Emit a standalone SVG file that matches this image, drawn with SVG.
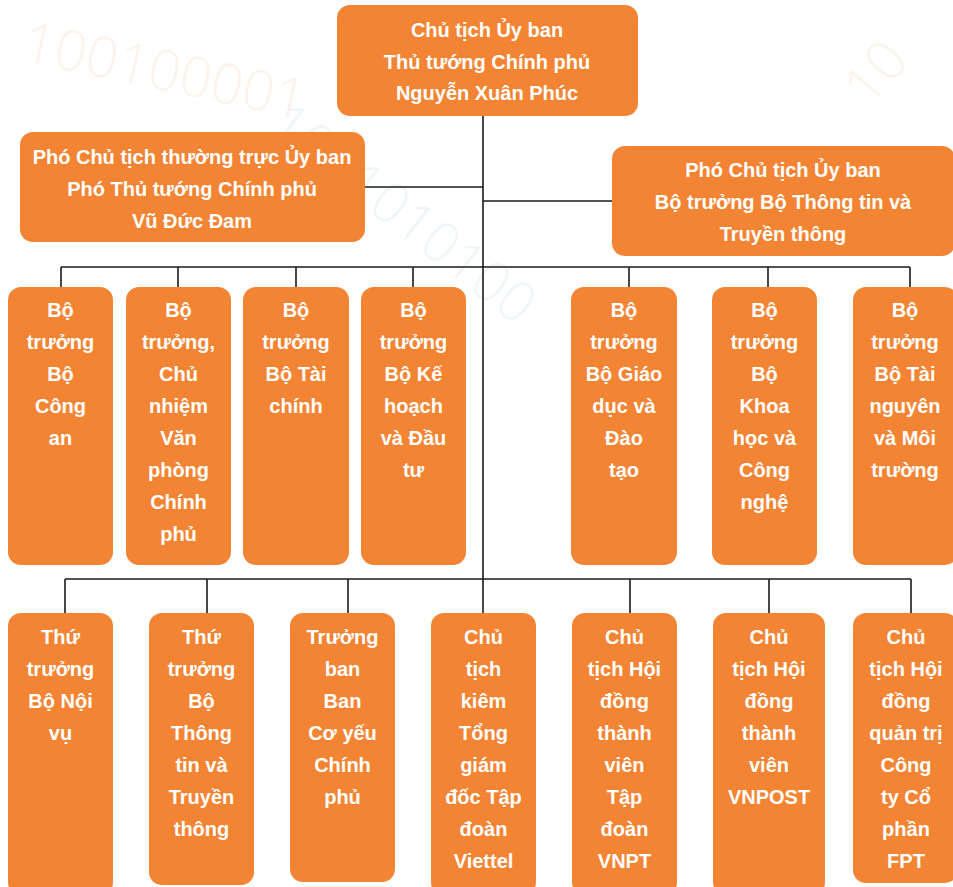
<svg xmlns="http://www.w3.org/2000/svg" width="953" height="887" viewBox="0 0 953 887">
<style>
.bg{fill:#ffffff}
.dig{font-family:"Open Sans","Liberation Sans",Arial,sans-serif;font-size:56px;font-weight:300}
.do{fill:#f6a56c;opacity:0.13}
.db{fill:#8fb4dc;opacity:0.13}
.box{fill:#f38433}
.t{font-family:"Liberation Sans",Arial,sans-serif;font-size:20px;font-weight:bold;fill:#ffffff;text-anchor:middle}
.ln{stroke:#1a1a1a;stroke-width:1.6;fill:none}
</style>
<rect class="bg" x="0" y="0" width="953" height="887"/>
<g id="background">
<text class="dig do" transform="translate(20,60) rotate(12)">100100001</text>
<text class="dig db" transform="translate(265,130) rotate(38)">1001010100</text>
<text class="dig do" transform="translate(870,110) rotate(-50)">10</text>
</g>
<g id="connectors">
<line class="ln" x1="483" y1="116" x2="483" y2="613"/>
<line class="ln" x1="365" y1="187" x2="483" y2="187"/>
<line class="ln" x1="483" y1="201" x2="612" y2="201"/>
<line class="ln" x1="61" y1="267" x2="910" y2="267"/>
<line class="ln" x1="61" y1="267" x2="61" y2="287"/>
<line class="ln" x1="178" y1="267" x2="178" y2="287"/>
<line class="ln" x1="296" y1="267" x2="296" y2="287"/>
<line class="ln" x1="413" y1="267" x2="413" y2="287"/>
<line class="ln" x1="629" y1="267" x2="629" y2="287"/>
<line class="ln" x1="768" y1="267" x2="768" y2="287"/>
<line class="ln" x1="910" y1="267" x2="910" y2="287"/>
<line class="ln" x1="65" y1="579" x2="911" y2="579"/>
<line class="ln" x1="65" y1="579" x2="65" y2="613"/>
<line class="ln" x1="207" y1="579" x2="207" y2="613"/>
<line class="ln" x1="348" y1="579" x2="348" y2="613"/>
<line class="ln" x1="630" y1="579" x2="630" y2="613"/>
<line class="ln" x1="769" y1="579" x2="769" y2="613"/>
<line class="ln" x1="911" y1="579" x2="911" y2="613"/>
</g>
<g id="chu-tich">
<rect class="box" x="337" y="5" width="301" height="111" rx="13"/>
<text class="t" x="487" y="37">Chủ tịch Ủy ban</text>
<text class="t" x="487" y="69">Thủ tướng Chính phủ</text>
<text class="t" x="487" y="100">Nguyễn Xuân Phúc</text>
</g>
<g id="pho-chu-tich-thuong-truc">
<rect class="box" x="20" y="132" width="345" height="110" rx="13"/>
<text class="t" x="192" y="164">Phó Chủ tịch thường trực Ủy ban</text>
<text class="t" x="192" y="196">Phó Thủ tướng Chính phủ</text>
<text class="t" x="192" y="228">Vũ Đức Đam</text>
</g>
<g id="pho-chu-tich">
<rect class="box" x="612" y="146" width="343" height="110" rx="13"/>
<text class="t" x="783" y="177">Phó Chủ tịch Ủy ban</text>
<text class="t" x="783" y="209">Bộ trưởng Bộ Thông tin và</text>
<text class="t" x="783" y="241">Truyền thông</text>
</g>
<g id="bo-cong-an">
<rect class="box" x="8" y="287" width="105" height="278" rx="13"/>
<text class="t" x="60.5" y="317">Bộ</text>
<text class="t" x="60.5" y="349">trưởng</text>
<text class="t" x="60.5" y="381">Bộ</text>
<text class="t" x="60.5" y="413">Công</text>
<text class="t" x="60.5" y="445">an</text>
</g>
<g id="van-phong-chinh-phu">
<rect class="box" x="126" y="287" width="105" height="278" rx="13"/>
<text class="t" x="178.5" y="317">Bộ</text>
<text class="t" x="178.5" y="349">trưởng,</text>
<text class="t" x="178.5" y="381">Chủ</text>
<text class="t" x="178.5" y="413">nhiệm</text>
<text class="t" x="178.5" y="445">Văn</text>
<text class="t" x="178.5" y="477">phòng</text>
<text class="t" x="178.5" y="509">Chính</text>
<text class="t" x="178.5" y="541">phủ</text>
</g>
<g id="bo-tai-chinh">
<rect class="box" x="243" y="287" width="106" height="278" rx="13"/>
<text class="t" x="296" y="317">Bộ</text>
<text class="t" x="296" y="349">trưởng</text>
<text class="t" x="296" y="381">Bộ Tài</text>
<text class="t" x="296" y="413">chính</text>
</g>
<g id="bo-ke-hoach-dau-tu">
<rect class="box" x="361" y="287" width="105" height="278" rx="13"/>
<text class="t" x="413.5" y="317">Bộ</text>
<text class="t" x="413.5" y="349">trưởng</text>
<text class="t" x="413.5" y="381">Bộ Kế</text>
<text class="t" x="413.5" y="413">hoạch</text>
<text class="t" x="413.5" y="445">và Đầu</text>
<text class="t" x="413.5" y="477">tư</text>
</g>
<g id="bo-giao-duc">
<rect class="box" x="571" y="287" width="106" height="278" rx="13"/>
<text class="t" x="624" y="317">Bộ</text>
<text class="t" x="624" y="349">trưởng</text>
<text class="t" x="624" y="381">Bộ Giáo</text>
<text class="t" x="624" y="413">dục và</text>
<text class="t" x="624" y="445">Đào</text>
<text class="t" x="624" y="477">tạo</text>
</g>
<g id="bo-khoa-hoc">
<rect class="box" x="712" y="287" width="105" height="278" rx="13"/>
<text class="t" x="764.5" y="317">Bộ</text>
<text class="t" x="764.5" y="349">trưởng</text>
<text class="t" x="764.5" y="381">Bộ</text>
<text class="t" x="764.5" y="413">Khoa</text>
<text class="t" x="764.5" y="445">học và</text>
<text class="t" x="764.5" y="477">Công</text>
<text class="t" x="764.5" y="509">nghệ</text>
</g>
<g id="bo-tai-nguyen">
<rect class="box" x="853" y="287" width="105" height="278" rx="13"/>
<text class="t" x="905" y="317">Bộ</text>
<text class="t" x="905" y="349">trưởng</text>
<text class="t" x="905" y="381">Bộ Tài</text>
<text class="t" x="905" y="413">nguyên</text>
<text class="t" x="905" y="445">và Môi</text>
<text class="t" x="905" y="477">trường</text>
</g>
<g id="bo-noi-vu">
<rect class="box" x="8" y="613" width="105" height="282" rx="13"/>
<text class="t" x="60.5" y="644">Thứ</text>
<text class="t" x="60.5" y="676">trưởng</text>
<text class="t" x="60.5" y="708">Bộ Nội</text>
<text class="t" x="60.5" y="740">vụ</text>
</g>
<g id="thu-truong-tttt">
<rect class="box" x="149" y="613" width="105" height="272" rx="13"/>
<text class="t" x="201.5" y="644">Thứ</text>
<text class="t" x="201.5" y="676">trưởng</text>
<text class="t" x="201.5" y="708">Bộ</text>
<text class="t" x="201.5" y="740">Thông</text>
<text class="t" x="201.5" y="772">tin và</text>
<text class="t" x="201.5" y="804">Truyền</text>
<text class="t" x="201.5" y="836">thông</text>
</g>
<g id="ban-co-yeu">
<rect class="box" x="290" y="613" width="105" height="269" rx="13"/>
<text class="t" x="342.5" y="644">Trưởng</text>
<text class="t" x="342.5" y="676">ban</text>
<text class="t" x="342.5" y="708">Ban</text>
<text class="t" x="342.5" y="740">Cơ yếu</text>
<text class="t" x="342.5" y="772">Chính</text>
<text class="t" x="342.5" y="804">phủ</text>
</g>
<g id="viettel">
<rect class="box" x="431" y="613" width="105" height="282" rx="13"/>
<text class="t" x="483.5" y="644">Chủ</text>
<text class="t" x="483.5" y="676">tịch</text>
<text class="t" x="483.5" y="708">kiêm</text>
<text class="t" x="483.5" y="740">Tổng</text>
<text class="t" x="483.5" y="772">giám</text>
<text class="t" x="483.5" y="804">đốc Tập</text>
<text class="t" x="483.5" y="836">đoàn</text>
<text class="t" x="483.5" y="868">Viettel</text>
</g>
<g id="vnpt">
<rect class="box" x="572" y="613" width="105" height="282" rx="13"/>
<text class="t" x="624.5" y="644">Chủ</text>
<text class="t" x="624.5" y="676">tịch Hội</text>
<text class="t" x="624.5" y="708">đồng</text>
<text class="t" x="624.5" y="740">thành</text>
<text class="t" x="624.5" y="772">viên</text>
<text class="t" x="624.5" y="804">Tập</text>
<text class="t" x="624.5" y="836">đoàn</text>
<text class="t" x="624.5" y="868">VNPT</text>
</g>
<g id="vnpost">
<rect class="box" x="713" y="613" width="112" height="282" rx="13"/>
<text class="t" x="769" y="644">Chủ</text>
<text class="t" x="769" y="676">tịch Hội</text>
<text class="t" x="769" y="708">đồng</text>
<text class="t" x="769" y="740">thành</text>
<text class="t" x="769" y="772">viên</text>
<text class="t" x="769" y="804">VNPOST</text>
</g>
<g id="fpt">
<rect class="box" x="853" y="613" width="105" height="270" rx="13"/>
<text class="t" x="906" y="644">Chủ</text>
<text class="t" x="906" y="676">tịch Hội</text>
<text class="t" x="906" y="708">đồng</text>
<text class="t" x="906" y="740">quản trị</text>
<text class="t" x="906" y="772">Công</text>
<text class="t" x="906" y="804">ty Cổ</text>
<text class="t" x="906" y="836">phần</text>
<text class="t" x="906" y="868">FPT</text>
</g>
</svg>
